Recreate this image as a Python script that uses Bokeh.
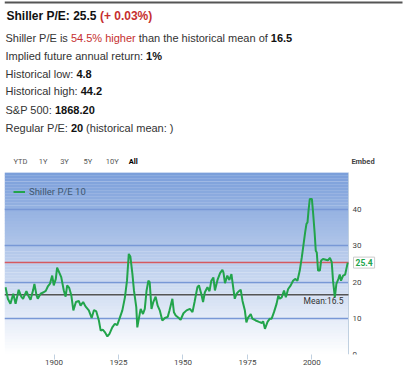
from bokeh.plotting import figure
from bokeh.models import Range1d, FixedTicker, Label, BoxAnnotation, Span, ColumnDataSource
from bokeh.layouts import column
from bokeh.embed import file_html
from bokeh.resources import INLINE
from bokeh.core.properties import value

# ---------------- data ----------------
current_pe = 25.5
change_pct = 0.03
above_mean_pct = 54.5
mean_pe = 16.5
implied_return = 1
hist_low = 4.8
hist_high = 44.2
sp500 = "1868.20"
regular_pe = 20
last_value = 25.4

range_buttons = ["YTD", "1Y", "3Y", "5Y", "10Y", "All"]
x_ticks = [1900, 1925, 1950, 1975, 2000]
y_ticks = [0, 10, 20, 30, 40]
grid_levels = [0, 10, 20, 30, 40]

years = [1881.2, 1882.1, 1883.1, 1884.2, 1885.1, 1886.3, 1887.3, 1888.0, 1889.3, 1890.2,
         1890.9, 1891.9, 1892.4, 1893.2, 1893.7, 1894.8, 1896.0, 1896.8, 1897.6, 1898.4,
         1899.3, 1899.9, 1900.7, 1901.2, 1902.0, 1902.8, 1903.8, 1904.5, 1905.1, 1905.9,
         1906.7, 1907.5, 1908.5, 1909.6, 1910.3, 1911.3, 1912.2, 1913.5, 1914.6, 1915.5,
         1916.4, 1917.4, 1918.1, 1918.9, 1919.7, 1920.7, 1921.5, 1922.6, 1923.6, 1924.5,
         1925.4, 1926.5, 1927.5, 1928.3, 1929.0, 1929.6, 1930.4, 1931.0, 1931.9, 1932.3,
         1932.9, 1933.6, 1934.5, 1935.2, 1935.9, 1936.6, 1937.1, 1937.8, 1938.5, 1939.4,
         1940.2, 1941.0, 1942.0, 1943.0, 1944.1, 1944.8, 1945.9, 1946.5, 1947.2, 1948.4,
         1949.1, 1950.2, 1951.4, 1952.7, 1953.7, 1954.5, 1955.6, 1956.2, 1957.1, 1957.8,
         1958.5, 1959.5, 1960.3, 1961.0, 1961.8, 1962.4, 1963.4, 1964.4, 1965.3, 1965.7,
         1966.3, 1967.2, 1968.0, 1968.8, 1969.6, 1970.1, 1970.8, 1971.7, 1972.4, 1973.1,
         1974.0, 1974.6, 1975.2, 1976.3, 1976.9, 1978.2, 1979.5, 1980.6, 1981.1, 1981.8,
         1982.8, 1983.7, 1984.4, 1985.3, 1986.3, 1987.0, 1987.5, 1988.3, 1989.2, 1989.9,
         1990.8, 1991.8, 1992.7, 1993.5, 1994.4, 1995.3, 1996.1, 1996.7, 1997.4, 1997.9,
         1998.3, 1998.7, 1999.2, 2000.0, 2000.5, 2001.1, 2001.5, 2001.9, 2002.4, 2003.1,
         2003.6, 2004.3, 2005.4, 2006.2, 2007.0, 2007.7, 2008.2, 2008.9, 2009.5, 2010.3,
         2010.8, 2011.3, 2012.1, 2012.9, 2013.9]

pe = [18.6, 15.4, 14.0, 16.8, 14.0, 17.9, 16.0, 15.4, 17.5, 16.0,
      15.1, 17.8, 19.5, 16.4, 15.4, 16.8, 17.2, 17.6, 18.8, 19.5,
      21.8, 19.1, 20.9, 24.0, 22.7, 21.4, 17.7, 16.0, 19.1, 18.4,
      16.4, 12.2, 14.5, 14.8, 13.5, 14.5, 13.3, 12.2, 10.1, 12.3,
      11.9, 9.4, 6.6, 6.9, 6.2, 5.0, 5.7, 7.5, 8.5, 8.1,
      9.9, 12.2, 15.8, 20.4, 27.8, 27.1, 22.3, 17.7, 13.1, 7.5,
      9.9, 12.6, 11.2, 12.6, 17.7, 20.4, 20.0, 12.6, 14.5, 16.0,
      13.5, 12.2, 9.4, 10.1, 10.4, 12.2, 15.4, 11.7, 10.8, 10.1,
      9.6, 11.4, 12.2, 12.6, 11.7, 14.5, 18.6, 19.1, 16.8, 14.5,
      17.2, 18.6, 17.5, 20.4, 21.3, 17.7, 20.6, 22.5, 23.4, 22.7,
      19.7, 21.8, 20.6, 22.2, 17.9, 15.4, 16.8, 17.5, 17.9, 14.8,
      12.2, 8.9, 10.1, 11.2, 9.9, 9.4, 9.0, 8.7, 9.2, 7.1,
      9.0, 9.9, 9.9, 11.7, 14.0, 16.3, 15.4, 15.8, 17.7, 15.8,
      18.1, 19.1, 20.4, 20.9, 20.4, 23.2, 26.9, 30.1, 33.8, 36.1,
      36.5, 39.8, 43.0, 43.0, 38.9, 33.3, 28.7, 28.2, 23.2, 23.2,
      26.0, 26.4, 26.2, 26.0, 26.7, 25.5, 20.4, 15.8, 19.5, 20.9,
      22.1, 20.4, 21.8, 22.1, 25.4]

# ---------------- header ----------------
W = 404
LEFT = 4
HDR_H = 168
SANS = value("Liberation Sans")
BODY = "#333333"
RED = "#c62f2f"

hdr = figure(width=W, height=HDR_H, x_range=Range1d(LEFT, W), y_range=Range1d(HDR_H, 0),
             output_backend="svg", toolbar_location=None, min_border=0, min_border_left=LEFT,
             x_axis_location=None, y_axis_location=None)
hdr.grid.visible = False
hdr.outline_line_color = None
hdr.background_fill_color = "white"
hdr.border_fill_color = "white"

hdr.line(x=[LEFT, 402], y=[2, 2], line_color="#555555", line_width=2)

seg_text = [f"Shiller P/E: {current_pe} ", f"(+ {change_pct:.2f}%)",
            "Shiller P/E is ", f"{above_mean_pct}% higher", "than the historical mean of ", f"{mean_pe}",
            "Implied future annual return: ", f"{implied_return}%",
            "Historical low: ", f"{hist_low}",
            "Historical high: ", f"{hist_high}",
            "S&P 500: ", sp500,
            "Regular P/E: ", f"{regular_pe}", "(historical mean: )"]
seg_x = [6, 99.4,
         5, 70.4, 138.3, 270.3,
         5, 145.6,
         5, 75.9,
         5, 80.2,
         5, 54.5,
         5, 70.4, 85.6]
seg_y = [15, 15,
         37.3, 37.3, 37.3, 37.3,
         55.7, 55.7,
         73.3, 73.3,
         90.7, 90.7,
         109, 109,
         127.3, 127.3, 127.3]
seg_color = ["#111111", RED,
             BODY, RED, BODY, "#111111",
             BODY, "#111111",
             BODY, "#111111",
             BODY, "#111111",
             BODY, "#111111",
             BODY, "#111111", BODY]
seg_style = ["bold", "bold",
             "normal", "normal", "normal", "bold",
             "normal", "bold",
             "normal", "bold",
             "normal", "bold",
             "normal", "bold",
             "normal", "bold", "normal"]
seg_size = ["12px", "12px"] + ["11px"] * 15

hdr.text(x="x", y="y", text="text", text_color="color", text_font_style="style",
         text_font_size="size", text_font=SANS, text_baseline="middle", text_align="left",
         source=ColumnDataSource(dict(x=seg_x, y=seg_y, text=seg_text, color=seg_color,
                                      style=seg_style, size=seg_size)))

btn_x = [20, 42.7, 64, 87.3, 111.7, 132.7]
btn_color = ["#555555"] * 5 + ["#000000"]
btn_style = ["normal"] * 5 + ["bold"]
hdr.text(x="x", y="y", text="text", text_color="color", text_font_style="style",
         text_font_size="7.5px", text_font=value("Roboto"), text_baseline="middle",
         text_align="center",
         source=ColumnDataSource(dict(x=btn_x, y=[160.7] * 6, text=range_buttons,
                                      color=btn_color, style=btn_style)))
hdr.text(x=[362.5], y=[160.7], text=["Embed"], text_color="#444444", text_font_style="bold",
         text_font_size="7.5px", text_font=value("Roboto"), text_baseline="middle",
         text_align="center")

# ---------------- chart ----------------
X0, X1 = 1880.8, 2014.2
PLOT_W = 344                      # width of the data area in px
X_END = X1 + (X1 - X0) * (W - LEFT - PLOT_W) / PLOT_W   # room for right-hand labels
Y1 = 50.3
p = figure(width=W, height=392 - HDR_H, x_range=Range1d(X0, X_END), y_range=Range1d(0, Y1),
           y_axis_location=None, output_backend="svg", toolbar_location=None,
           min_border_left=LEFT, min_border_right=0, min_border_top=4, min_border_bottom=38)
p.outline_line_color = None
p.background_fill_color = "white"
p.border_fill_color = "white"

# vertical gradient background (blue at top -> white at bottom)
top_rgb = (122, 158, 218)
n_strips = 60
for i in range(n_strips):
    f = (i + 0.5) / n_strips
    r = round(255 + (top_rgb[0] - 255) * f)
    g = round(255 + (top_rgb[1] - 255) * f)
    b = round(255 + (top_rgb[2] - 255) * f)
    p.add_layout(BoxAnnotation(bottom=Y1 * i / n_strips, top=Y1 * (i + 1) / n_strips + 0.06,
                               left=X0, right=X1,
                               fill_color=f"#{r:02x}{g:02x}{b:02x}", fill_alpha=1.0,
                               line_color=None, level="image"))

p.xgrid.visible = False
p.ygrid.ticker = FixedTicker(ticks=grid_levels)
p.ygrid.cross_bounds = (X0, X1)
p.ygrid.grid_line_color = "#7898d6"
p.ygrid.grid_line_width = 1.5

# right-hand axis line
p.add_layout(Span(location=X1, dimension="height", line_color="#c0d0e0", line_width=1,
                  level="underlay"))

# current value and mean reference lines
p.segment(x0=[X0, X0], x1=[X1, X1], y0=[last_value, mean_pe], y1=[last_value, mean_pe],
          line_color=["#d65a5f", "#555555"], line_width=1.5)

p.line(years, pe, line_color="#22a44b", line_width=2, legend_label="Shiller P/E 10")

AX_FONT = "Roboto"
p.xaxis.ticker = FixedTicker(ticks=x_ticks)
p.xaxis.axis_line_color = None
p.xaxis.major_tick_line_color = "#c0d0e0"
p.xaxis.major_tick_out = 5
p.xaxis.major_tick_in = 0
p.xaxis.minor_tick_line_color = None
p.xaxis.major_label_standoff = 0
p.xaxis.major_label_text_font = AX_FONT
p.xaxis.major_label_text_font_size = "8px"
p.xaxis.major_label_text_color = "#444444"

# y-axis tick labels on the right of the data area
p.text(x=[X1] * len(y_ticks), y=y_ticks, text=[str(t) for t in y_ticks], x_offset=4,
       text_font=value(AX_FONT), text_font_size="8px", text_color="#444444",
       text_baseline="middle", text_align="left")

p.legend.location = "top_left"
p.legend.margin = 4
p.legend.padding = 5
p.legend.glyph_width = 12
p.legend.glyph_height = 21
p.legend.label_height = 21
p.legend.label_standoff = 4
p.legend.label_text_font = AX_FONT
p.legend.label_text_font_size = "9.5px"
p.legend.label_text_color = "#3e576f"
p.legend.background_fill_alpha = 0
p.legend.border_line_alpha = 0

p.add_layout(Label(x=X1, y=last_value, x_offset=5, text=f"{last_value}", text_color="#22a44b",
                   text_font_style="bold", text_font_size="8.5px", text_font=AX_FONT,
                   text_baseline="middle", text_align="left", border_line_color="#cccccc",
                   background_fill_color="white", padding=2))
p.add_layout(Label(x=X1, y=mean_pe, x_offset=-5, y_offset=-1, text=f"Mean:{mean_pe}",
                   text_color="#333333", text_font_size="8.5px", text_font=AX_FONT,
                   text_baseline="top", text_align="right"))

layout = column(hdr, p, spacing=0)
open("out.html", "w").write(file_html(layout, INLINE))
